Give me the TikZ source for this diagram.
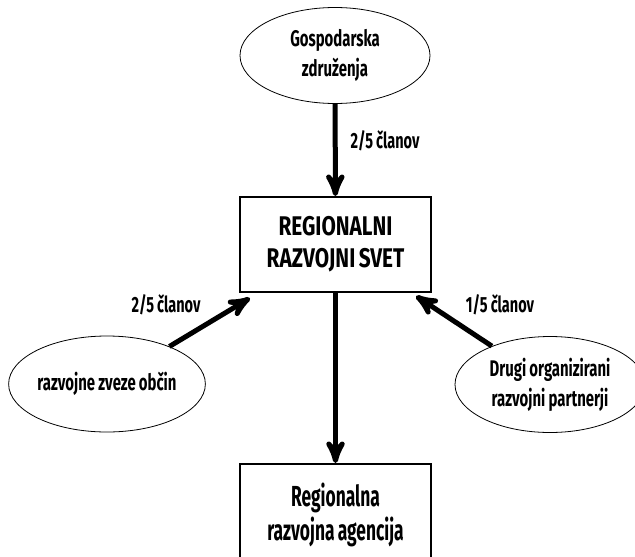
\documentclass[tikz,border=0pt]{standalone}
\usepackage{fontspec}
\setmainfont{Fira Sans}[FakeStretch=0.66, WordSpace=0.9]
\newfontfamily\svetfont{Fira Sans}[FakeStretch=0.77, WordSpace=0.7]
\newfontfamily\agencijafont{Fira Sans}[FakeStretch=0.6, WordSpace=0.8]
\usetikzlibrary{shapes.geometric,arrows,positioning}

\begin{document}
\begin{tikzpicture}[x=0.5pt, y=-0.5pt, >=stealth', semithick]
\tikzstyle{grupa}=[ellipse, draw=black, thin, align=center, font=\fontsize{11.3}{15}\selectfont\bfseries, inner sep=0pt, minimum width=95pt, minimum height=48pt]
\tikzstyle{organ}=[rectangle, draw=black, line width=1pt, align=center, minimum width=95.5pt]
\tikzstyle{tok}=[->, line width=2.5pt]
\tikzstyle{delez}=[font=\fontsize{11}{12}\selectfont\bfseries]
\useasboundingbox (0,0) rectangle (635,556);
\clip (0,0) rectangle (635,556);
\node[organ, minimum height=47.5pt, font=\fontsize{13.5}{16}\svetfont\bfseries] (RRS) at (335.5,244.5) {REGIONALNI\\RAZVOJNI SVET};
\node[grupa] (GZ) at (335,55.5) {Gospodarska\\združenja};
\node[grupa] (RZO) at (107,384) {razvojne zveze občin};
\node[grupa] (DRP) at (550,384.5) {Drugi organizirani\\razvojni partnerji};
\node[organ, minimum height=51pt, font=\fontsize{14.5}{17}\agencijafont\bfseries] (RRA) at (335.5,515) {Regionalna\\razvojna agencija};
\node[delez]  (d1) at (385,141) {2/5 članov};
\node[delez]  (d2) at (166,305) {2/5 članov};
\node[delez]  (d3) at (500,305) {1/5 članov};
\draw[tok] (GZ) -- (RRS);
\draw[tok] (RZO) -- ([xshift=5.5pt,yshift=-2.5pt]RRS.south west);
\draw[tok] (DRP) -- ([xshift=-8pt,yshift=-1.5pt]RRS.south east);
\draw[tok] (RRS) -- (RRA);
\end{tikzpicture}
\end{document}
